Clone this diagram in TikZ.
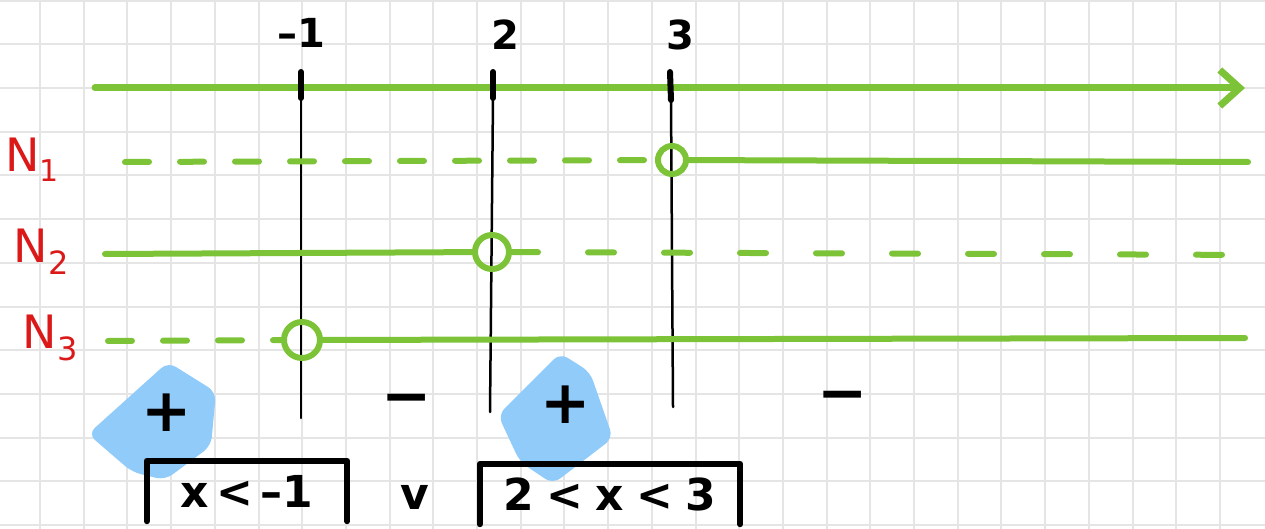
\documentclass[tikz,border=0pt]{standalone}
\usepackage{fontspec}
\setmainfont{DejaVu Sans}
\usetikzlibrary{arrows.meta, positioning}
\definecolor{penGreen}{RGB}{125,195,55}
\definecolor{penRed}{RGB}{220,25,25}
\definecolor{penBlue}{RGB}{145,203,250}
\definecolor{gridGray}{RGB}{229,229,229}

\begin{document}
\begin{tikzpicture}[x=1pt, y=-1pt,
    gridline/.style={draw=gridGray, line width=2pt},
    axisline/.style={draw=penGreen, line width=7pt, line cap=round, -{Straight Barb[length=20pt, width=36pt]}},
    solidline/.style={draw=penGreen, line width=6pt, line cap=round},
    dashline/.style={solidline, dash pattern=on 24pt off 31pt},
    sparseline/.style={solidline, dash pattern=on 26pt off 50pt},
    hole/.style={circle, draw=penGreen, line width=6pt, inner sep=0pt},
    tickmark/.style={draw=black, line width=6pt, line cap=round},
    tickline/.style={draw=black, line width=2.5pt, line cap=round},
    value/.style={font=\fontsize{40}{40}\selectfont\bfseries, inner sep=0pt},
    factor/.style={font=\fontsize{46}{46}\selectfont, text=penRed, inner sep=0pt},
    sign/.style={font=\fontsize{60}{60}\selectfont\bfseries, inner sep=0pt},
    blob/.style={fill=penBlue, rounded corners=9pt},
    answer/.style={font=\fontsize{44}{44}\selectfont\bfseries, minimum height=60pt, inner sep=0pt},
    bracket/.style={draw=black, line width=6pt, line cap=round, line join=round}
]
\useasboundingbox (0,0) rectangle (1265,529);
% squared paper
\foreach \i in {0,...,28} \draw[gridline] (\i*43.7-3.7,0) -- (\i*43.7-3.7,529);
\foreach \j in {0,...,12} \draw[gridline] (0,\j*43.7+0.7) -- (1265,\j*43.7+0.7);

% number line
\coordinate (axL) at (95,88);
\coordinate (axR) at (1245,88);
\draw[axisline] (axL) -- (axR);

% roots
\node[value] (r1) at (301,33) {–1};
\node[value] (r2) at (505,35) {2};
\node[value] (r3) at (680,35) {3};

\coordinate (t1) at (301,72);
\coordinate (m1) at (301,98);
\coordinate (b1) at (301,418);
\coordinate (t2) at (493,72);
\coordinate (m2) at (493,98);
\coordinate (b2) at (490,412);
\coordinate (t3) at (670,72);
\coordinate (m3) at (671,100);
\coordinate (b3) at (673,407);
\draw[tickmark] (t1) -- (m1);
\draw[tickmark] (t2) -- (m2);
\draw[tickmark] (t3) -- (m3);
\draw[tickline] (m1) -- (b1);
\draw[tickline] (m2) -- (b2);
\draw[tickline] (m3) -- (b3);

% factors
\node[factor] (f1) at (32,160) {N\raisebox{-10pt}{\fontsize{30}{30}\selectfont 1}};
\node[factor] (f2) at (41,252) {N\raisebox{-12pt}{\fontsize{32}{32}\selectfont 2}};
\node[factor] (f3) at (50,338) {N\raisebox{-12pt}{\fontsize{32}{32}\selectfont 3}};

\node[hole, minimum size=28pt] (o1) at (672,160) {};
\node[hole, minimum size=34pt] (o2) at (492,252) {};
\node[hole, minimum size=36pt] (o3) at (302,340) {};

\coordinate (n1a) at (125,162);
\coordinate (n1b) at (1248,162);
\coordinate (n2a) at (105,254);
\coordinate (n2b) at (1265,255);
\coordinate (n3a) at (108,341);
\coordinate (n3b) at (1245,338);

\draw[dashline] (n1a) -- (o1);
\draw[solidline] (o1) -- (n1b);
\draw[solidline] (n2a) -- (o2);
\draw[sparseline] (o2) -- (n2b);
\draw[dashline] (n3a) -- (o3);
\draw[solidline] (o3) -- (n3b);

% signs
\fill[blob] (88,434) -- (168,362) -- (216,392) -- (211,446) -- (165,480) -- (132,472) -- cycle;
\fill[blob] (498,415) -- (560,353) -- (590,372) -- (613,438) -- (553,484) -- (520,462) -- cycle;
\node[sign] (s1) at (167,413) {+};
\node[sign] (s2) at (407,405) {−};
\node[sign] (s3) at (566,405) {+};
\node[sign] (s4) at (843,402) {−};

% solution
\node[answer, minimum width=200pt] (a1) at (247,491) {x\,<\,–1};
\node[answer] (or) at (415,497) {v};
\node[answer, minimum width=260pt] (a2) at (610,494) {2\;<\;x\;<\;3};
\draw[bracket] (a1.south west) -- (a1.north west) -- (a1.north east) -- (a1.south east);
\draw[bracket] (a2.south west) -- (a2.north west) -- (a2.north east) -- (a2.south east);
\end{tikzpicture}
\end{document}
